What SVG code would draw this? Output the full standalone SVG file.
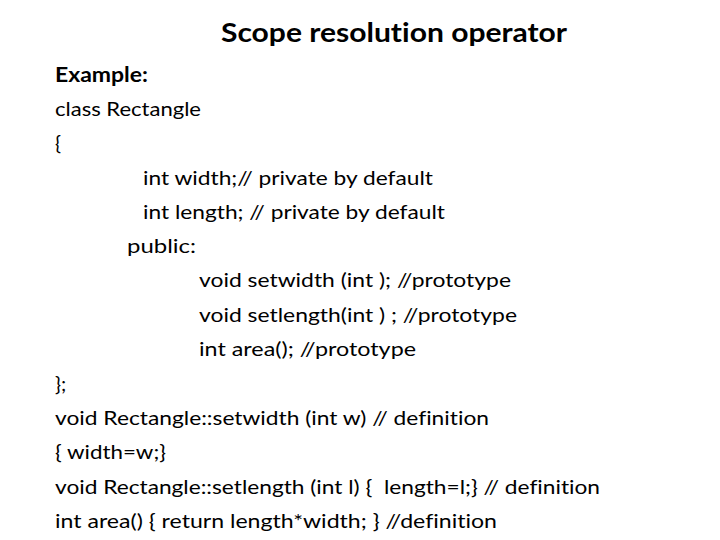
<svg xmlns="http://www.w3.org/2000/svg" width="720" height="540" viewBox="0 0 720 540">
<style>
text{font-family:Lato,"Open Sans","Liberation Sans",sans-serif;fill:#000;white-space:pre;font-variant-ligatures:none}
.t{font-size:27px;font-weight:bold}
.b{font-size:20px}
.bb{font-size:20px;font-weight:bold}
</style>
<rect width="720" height="540" fill="#fff"/>
<g id="title">
<text class="t" x="221" y="42" textLength="346" lengthAdjust="spacingAndGlyphs">Scope resolution operator</text>
</g>
<g id="body">
<text class="bb" x="55" y="82" textLength="93" lengthAdjust="spacingAndGlyphs">Example:</text>
<text class="b" x="55" y="116" textLength="146" lengthAdjust="spacingAndGlyphs">class Rectangle</text>
<text class="b" x="55" y="150">{</text>
<text class="b" x="143" y="185" textLength="290" lengthAdjust="spacingAndGlyphs">int width;// private by default</text>
<text class="b" x="143" y="219" textLength="302" lengthAdjust="spacingAndGlyphs">int length; // private by default</text>
<text class="b" x="127" y="253" textLength="69" lengthAdjust="spacingAndGlyphs">public:</text>
<text class="b" x="199" y="287" textLength="312" lengthAdjust="spacingAndGlyphs">void setwidth (int ); //prototype</text>
<text class="b" x="199" y="322" textLength="318" lengthAdjust="spacingAndGlyphs">void setlength(int ) ; //prototype</text>
<text class="b" x="199" y="356" textLength="217" lengthAdjust="spacingAndGlyphs">int area(); //prototype</text>
<text class="b" x="55" y="391">};</text>
<text class="b" x="55" y="425" textLength="434" lengthAdjust="spacingAndGlyphs">void Rectangle::setwidth (int w) // definition</text>
<text class="b" x="55" y="459" textLength="111" lengthAdjust="spacingAndGlyphs">{ width=w;}</text>
<text class="b" x="55" y="494" textLength="545" lengthAdjust="spacingAndGlyphs">void Rectangle::setlength (int l) {  length=l;} // definition</text>
<text class="b" x="55" y="528" textLength="442" lengthAdjust="spacingAndGlyphs">int area() { return length*width; } //definition</text>
</g>
</svg>
